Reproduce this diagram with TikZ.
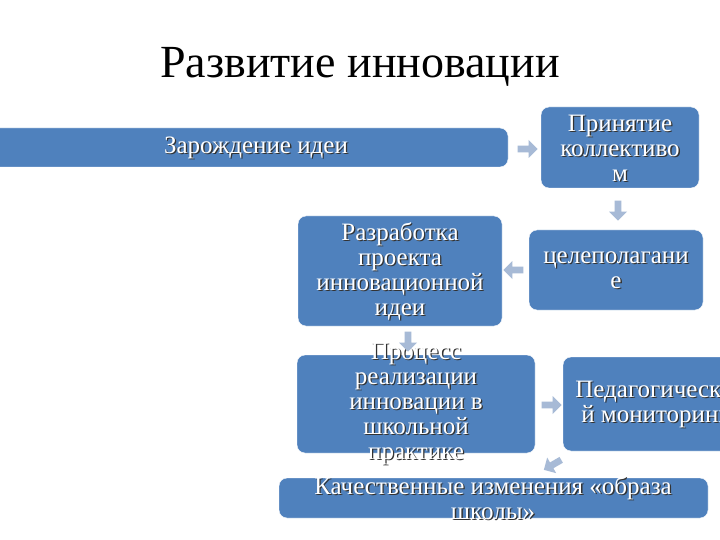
\documentclass[tikz,border=0pt]{standalone}
\usepackage{fontspec}
\setmainfont{Liberation Serif}
\usetikzlibrary{shapes.arrows}
\definecolor{boxblue}{HTML}{4F81BD}
\definecolor{arrowblue}{HTML}{A7BAD6}
\tikzset{
  box/.style={fill=boxblue,draw=white,rounded corners=8pt,inner sep=0pt},
  txt/.style={text=white,align=center,font=\fontsize{25}{25}\selectfont,inner sep=0pt},
  shd/.style={text=black!80,align=center,font=\fontsize{25}{25}\selectfont,inner sep=0pt},
  barrow/.style={single arrow,fill=arrowblue,minimum width=18pt,single arrow head extend=2pt,minimum height=20pt,inner sep=1pt}
}
\newcommand{\stext}[3]{\node[shd] at ([xshift=1.3pt,yshift=-1.3pt]#1) {#3};\node[txt] (#2) at (#1) {#3};}
\begin{document}
\begin{tikzpicture}[x=1pt,y=-1pt]
\useasboundingbox (0,0) rectangle (720,540);
\clip (0,0) rectangle (720,540);
\fill[white] (0,0) rectangle (720,540);
\node[font=\fontsize{46}{48}\selectfont] (title) at (360,67) {Развитие инновации};
\draw[box] (-10,128) rectangle (508,167); \coordinate (b1) at (256,148);
\draw[box] (541,107) rectangle (699,188); \coordinate (b2) at (620,148);
\draw[box] (298,216) rectangle (502,326); \coordinate (b3) at (400,271);
\draw[box] (529,230) rectangle (703,310); \coordinate (b4) at (616,270);
\draw[box] (297,355) rectangle (535,453); \coordinate (b5) at (416,404);
\draw[box] (563,357) rectangle (740,451); \coordinate (b6) at (655,404);
\draw[box] (279,478) rectangle (708,518); \coordinate (b7) at (493,498);
\stext{b1}{t1}{Зарождение идеи}
\stext{b2}{t2}{Принятие\\коллективо\\м}
\stext{b3}{t3}{Разработка\\проекта\\инновационной\\идеи}
\stext{b4}{t4}{целеполагани\\е}
\stext{b5}{t5}{Процесс\\реализации\\инновации в\\школьной\\практике}
\stext{b6}{t6}{Педагогически\\й мониторинг}
\stext{b7}{t7}{Качественные изменения «образа\\школы»}
\node[barrow] (a1) at (526,149) {};
\node[barrow,rotate=-90] (a2) at (618,209) {};
\node[barrow,rotate=180] (a3) at (515,270) {};
\node[barrow,rotate=-90] (a4) at (408,340) {};
\node[barrow] (a5) at (550,405) {};
\node[barrow,rotate=-150] (a6) at (554,464) {};
\end{tikzpicture}
\end{document}
